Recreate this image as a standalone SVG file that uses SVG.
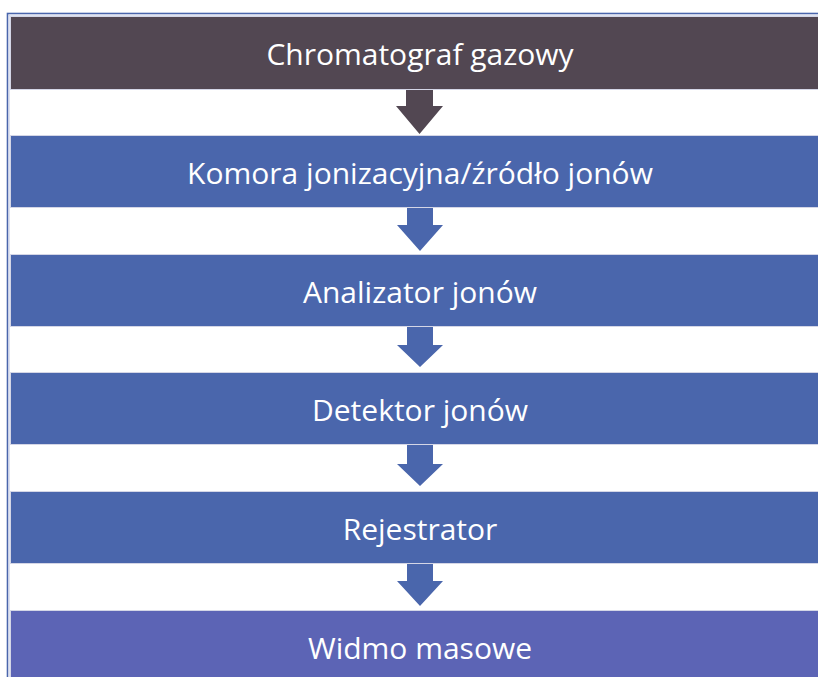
<svg xmlns="http://www.w3.org/2000/svg" width="818" height="677" viewBox="0 0 818 677">
<style>
.box{stroke:#d4d6e6;stroke-width:1}
.dark{fill:#524752}
.blue{fill:#4a66ac}
.purple{fill:#5c64b5}
.lbl{font-family:"Open Sans","Liberation Sans",sans-serif;font-size:30px;fill:#ffffff;text-anchor:middle}
</style>
<rect x="0" y="0" width="818" height="677" fill="#ffffff"/>
<rect x="7.5" y="13.5" width="830" height="700" fill="none" stroke="#4a66ac" stroke-width="1.6"/>
<rect x="9.2" y="15.2" width="830" height="700" fill="none" stroke="#c9cfe6" stroke-width="0.8"/>
<g id="connectors">
<polygon class="dark" points="406,89 433,89 433,106 443,106 419.5,134 396,106 406,106"/>
<polygon class="blue" points="407,208 433,208 433,225 443,225 420,251 397,225 407,225"/>
<polygon class="blue" points="407,327 433,327 433,345 443,345 420,367 397,345 407,345"/>
<polygon class="blue" points="407,445 433,445 433,464 443,464 420,486 397,464 407,464"/>
<polygon class="blue" points="407,563 433,563 433,581 443,581 420,606 397,581 407,581"/>
</g>
<g id="n1"><rect class="box dark" x="10.5" y="16.5" width="820" height="73"/><text class="lbl" x="420" y="65">Chromatograf gazowy</text></g>
<g id="n2"><rect class="box blue" x="10.5" y="135.5" width="820" height="72"/><text class="lbl" x="420" y="184">Komora jonizacyjna/źródło jonów</text></g>
<g id="n3"><rect class="box blue" x="10.5" y="254.5" width="820" height="72"/><text class="lbl" x="420" y="303">Analizator jonów</text></g>
<g id="n4"><rect class="box blue" x="10.5" y="372.5" width="820" height="72"/><text class="lbl" x="420" y="421">Detektor jonów</text></g>
<g id="n5"><rect class="box blue" x="10.5" y="491.5" width="820" height="72"/><text class="lbl" x="420" y="540">Rejestrator</text></g>
<g id="n6"><rect class="box purple" x="10.5" y="610.5" width="820" height="80"/><text class="lbl" x="420" y="659">Widmo masowe</text></g>
</svg>
